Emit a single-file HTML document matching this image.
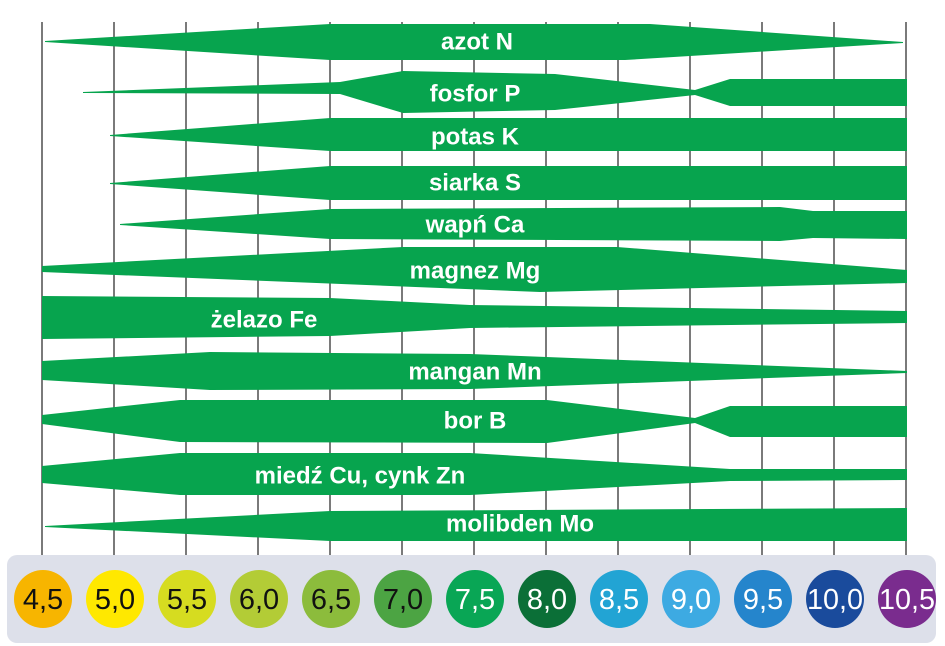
<!DOCTYPE html>
<html><head><meta charset="utf-8"><style>body{margin:0;background:#fff}svg{display:block}</style></head><body>
<svg width="945" height="646" viewBox="0 0 945 646" xmlns="http://www.w3.org/2000/svg">
<g stroke="#7a7a7a" stroke-width="2">
<line x1="42" y1="22" x2="42" y2="555"/><line x1="114" y1="22" x2="114" y2="555"/><line x1="186" y1="22" x2="186" y2="555"/><line x1="258" y1="22" x2="258" y2="555"/><line x1="330" y1="22" x2="330" y2="555"/><line x1="402" y1="22" x2="402" y2="555"/><line x1="474" y1="22" x2="474" y2="555"/><line x1="546" y1="22" x2="546" y2="555"/><line x1="618" y1="22" x2="618" y2="555"/><line x1="690" y1="22" x2="690" y2="555"/><line x1="762" y1="22" x2="762" y2="555"/><line x1="834" y1="22" x2="834" y2="555"/><line x1="906" y1="22" x2="906" y2="555"/>
</g>
<g fill="#07a44e">
<polygon points="45,41 330,24 650,24 903,42 903,43 625,60 330,60 45,42"/>
<polygon points="83,92 340,82 403,71 555,74 695,90 730,79 907,79 907,106 730,106 695,95 555,110 403,113 340,94 83,93"/>
<polygon points="110,135 330,118 907,118 907,151 330,151 110,136"/>
<polygon points="110,183 330,166 907,166 907,200 330,200 110,184"/>
<polygon points="120,224 330,209 780,207 813,211 907,211 907,239 813,238 780,241 330,239 120,225"/>
<polygon points="42,266 403,247 617,247 907,270 907,283 540,292 42,272"/>
<polygon points="42,296 330,298 470,305 907,311 907,323 470,328 330,336 42,339"/>
<polygon points="42,361 210,352 470,354 907,371 907,373 470,389 210,390 42,380"/>
<polygon points="42,415 180,400 547,400 695,418 730,406 907,406 907,437 730,437 695,423 547,443 180,442 42,424"/>
<polygon points="42,466 180,453 470,453 730,469 907,469 907,480 730,481 470,495 180,495 42,483"/>
<polygon points="45,526 330,511 907,508 907,541 330,541 45,527"/>
</g>
<g fill="#fff" font-family="Liberation Sans, sans-serif" font-size="24" font-weight="bold" text-anchor="middle" dominant-baseline="central">
<text x="477" y="42">azot N</text>
<text x="475" y="94">fosfor P</text>
<text x="475" y="137">potas K</text>
<text x="475" y="183">siarka  S</text>
<text x="475" y="225">wapń Ca</text>
<text x="475" y="271">magnez Mg</text>
<text x="264" y="320">żelazo Fe</text>
<text x="475" y="372">mangan Mn</text>
<text x="475" y="421">bor B</text>
<text x="360" y="476">miedź Cu, cynk Zn</text>
<text x="520" y="524">molibden Mo</text>
</g>
<rect x="7" y="555" width="929" height="88" rx="10" fill="#dde0ea"/>
<g>
<circle cx="43" cy="599" r="29" fill="#f7b500"/><circle cx="115" cy="599" r="29" fill="#ffe800"/><circle cx="187" cy="599" r="29" fill="#d6dc20"/><circle cx="259" cy="599" r="29" fill="#b3cc36"/><circle cx="331" cy="599" r="29" fill="#8cbc3c"/><circle cx="403" cy="599" r="29" fill="#4ca443"/><circle cx="475" cy="599" r="29" fill="#09a655"/><circle cx="547" cy="599" r="29" fill="#0b6f37"/><circle cx="619" cy="599" r="29" fill="#22a4d4"/><circle cx="691" cy="599" r="29" fill="#3daae2"/><circle cx="763" cy="599" r="29" fill="#2585cc"/><circle cx="835" cy="599" r="29" fill="#1a4b9c"/><circle cx="907" cy="599" r="29" fill="#7a2c8e"/>
</g>
<g font-family="Liberation Sans, sans-serif" font-size="29" text-anchor="middle" dominant-baseline="central">
<g fill="#111"><text x="43" y="600">4,5</text><text x="115" y="600">5,0</text><text x="187" y="600">5,5</text><text x="259" y="600">6,0</text><text x="331" y="600">6,5</text><text x="403" y="600">7,0</text></g>
<g fill="#fff"><text x="475" y="600">7,5</text><text x="547" y="600">8,0</text><text x="619" y="600">8,5</text><text x="691" y="600">9,0</text><text x="763" y="600">9,5</text><text x="835" y="600" textLength="56" lengthAdjust="spacingAndGlyphs">10,0</text><text x="907" y="600" textLength="56" lengthAdjust="spacingAndGlyphs">10,5</text></g>
</g>
</svg>
</body></html>
